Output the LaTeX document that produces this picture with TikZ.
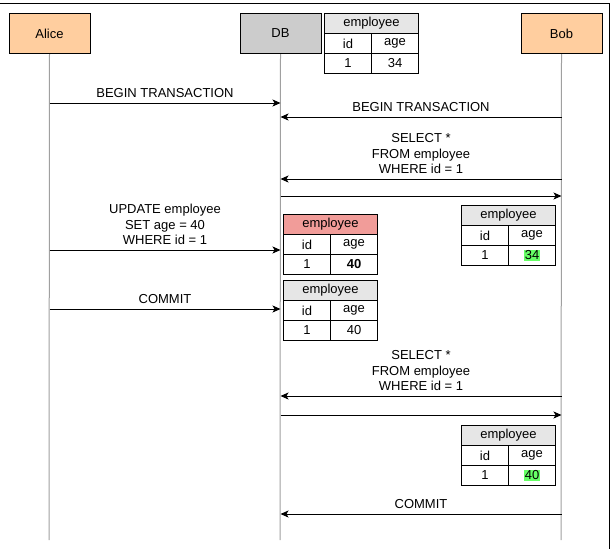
\documentclass[tikz,border=0pt]{standalone}
\usepackage{fontspec}
\setmainfont{Liberation Sans}
\usetikzlibrary{arrows.meta}
\definecolor{peach}{HTML}{FFCE9F}
\definecolor{dbgray}{HTML}{CCCCCC}
\definecolor{hdrgray}{HTML}{E6E6E6}
\definecolor{hdrred}{HTML}{F19C99}
\definecolor{hlgreen}{HTML}{66FF66}
\definecolor{lifegray}{HTML}{A0A0A0}
\newcommand\hlval[1]{{\setlength\fboxsep{0.6pt}\colorbox{hlgreen}{#1}}}
\newcommand\emptable[5]{%
  \node[hdr,fill=#4] (#1h) at (#2,#3) {employee};
  \node[cell] (#1a) at (#2,#3+20) {id};
  \node[cell] (#1b) at (#2+47,#3+20) {age};
  \node[cell] (#1c) at (#2,#3+40) {1};
  \node[cell] (#1d) at (#2+47,#3+40) {#5};
}
\begin{document}
\begin{tikzpicture}[x=1pt,y=-1pt,
  every node/.style={font=\fontsize{13}{15.5}\selectfont},
  actor/.style={draw,line width=1pt,minimum width=81pt,minimum height=40pt,inner sep=0pt,anchor=north west},
  hdr/.style={draw,line width=1pt,minimum width=94pt,minimum height=20pt,inner sep=0pt,anchor=north west},
  cell/.style={draw,line width=1pt,minimum width=47pt,minimum height=20pt,inner sep=0pt,anchor=north west,fill=white},
  life/.style={draw=lifegray,line width=1pt},
  msg/.style={draw=black,line width=1pt,-{Stealth[length=8pt,width=7pt,inset=2pt]}},
  lbl/.style={anchor=south,inner sep=0pt,align=center}
]
\useasboundingbox (0,0) rectangle (615,550);
% frame
\draw[line width=1pt] (0,3) -- (609,3) -- (609,549);
% actors
\node[actor,fill=peach] (alice) at (8.5,13) {Alice};
\node[actor,fill=dbgray] (db) at (239.5,13) {DB};
\node[actor,fill=peach] (bob) at (520.5,13) {Bob};
\coordinate (aliceend) at (49,540);
\coordinate (dbend) at (280,540);
\coordinate (bobend) at (561,540);
\draw[life] (alice.south) -- (aliceend);
\draw[life] (db.south) -- (dbend);
\draw[life] (bob.south) -- (bobend);
% tables
\emptable{t0}{324}{13}{hdrgray}{34}
\emptable{t1}{461}{205}{hdrgray}{\hlval{34}}
\emptable{t2}{283}{214}{hdrred}{\textbf{40}}
\emptable{t3}{283}{280}{hdrgray}{40}
\emptable{t4}{461}{425}{hdrgray}{\hlval{40}}
% messages
\draw[msg] (alice.south |- 0,103) -- node[lbl,above=4.5pt] {BEGIN TRANSACTION} (db.south |- 0,103);
\draw[msg] (bob.south |- 0,117) -- node[lbl,above=4.5pt] {BEGIN TRANSACTION} (db.south |- 0,117);
\draw[msg] (bob.south |- 0,179) -- node[lbl,above=4.5pt] {SELECT *\\FROM employee\\WHERE id = 1} (db.south |- 0,179);
\draw[msg] (db.south |- 0,196) -- (bob.south |- 0,196);
\draw[msg] (alice.south |- 0,250) -- node[lbl,above=4.5pt] {UPDATE employee\\SET age = 40\\WHERE id = 1} (db.south |- 0,250);
\draw[msg] (alice.south |- 0,309) -- node[lbl,above=4.5pt] {COMMIT} (db.south |- 0,309);
\draw[msg] (bob.south |- 0,396) -- node[lbl,above=4.5pt] {SELECT *\\FROM employee\\WHERE id = 1} (db.south |- 0,396);
\draw[msg] (db.south |- 0,415) -- (bob.south |- 0,415);
\draw[msg] (bob.south |- 0,514) -- node[lbl,above=4.5pt] {COMMIT} (db.south |- 0,514);
\end{tikzpicture}
\end{document}
